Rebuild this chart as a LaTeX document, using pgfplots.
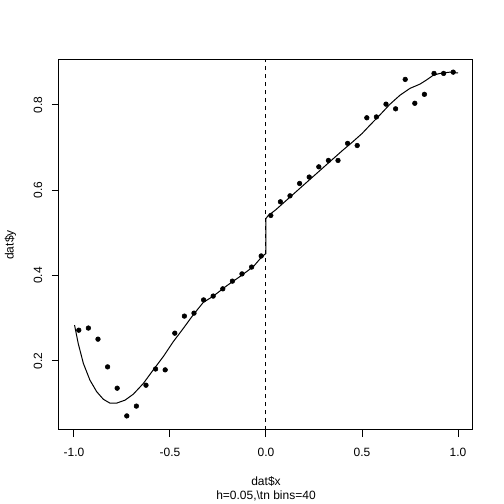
\documentclass[border=0pt]{standalone}
\usepackage{fontspec}
\setmainfont{Liberation Sans}
\usepackage{pgfplots}
\pgfplotsset{compat=1.18}

% binned means (h=0.05, 40 bins)
\pgfplotstableread{
x y
-0.975 0.272
-0.925 0.277
-0.875 0.251
-0.825 0.186
-0.775 0.136
-0.725 0.071
-0.675 0.094
-0.625 0.143
-0.575 0.181
-0.525 0.179
-0.475 0.265
-0.425 0.305
-0.375 0.312
-0.325 0.343
-0.275 0.352
-0.225 0.369
-0.175 0.387
-0.125 0.404
-0.075 0.420
-0.025 0.446
0.025 0.541
0.075 0.573
0.125 0.587
0.175 0.616
0.225 0.631
0.275 0.655
0.325 0.670
0.375 0.670
0.425 0.710
0.475 0.705
0.525 0.770
0.575 0.772
0.625 0.802
0.675 0.791
0.725 0.860
0.775 0.804
0.825 0.825
0.875 0.874
0.925 0.874
0.975 0.877
}\bins

% local fit, left and right of the cutoff
\pgfplotstableread{
x y
-0.997 0.284
-0.978 0.241
-0.951 0.194
-0.917 0.155
-0.882 0.128
-0.847 0.110
-0.813 0.101
-0.778 0.101
-0.734 0.108
-0.691 0.122
-0.639 0.147
-0.587 0.179
-0.535 0.210
-0.483 0.245
-0.431 0.276
-0.379 0.308
-0.327 0.337
-0.274 0.352
-0.205 0.376
-0.135 0.398
-0.066 0.421
-0.022 0.444
0.000 0.452
0.000 0.534
0.010 0.540
0.050 0.554
0.100 0.574
0.150 0.594
0.200 0.614
0.250 0.634
0.300 0.654
0.350 0.674
0.400 0.694
0.450 0.713
0.500 0.733
0.542 0.753
0.594 0.777
0.646 0.802
0.698 0.823
0.750 0.839
0.802 0.849
0.837 0.859
0.872 0.870
0.906 0.874
0.958 0.877
1.000 0.875
}\fit

\begin{document}
\begin{tikzpicture}[x=1pt,y=1pt]
\path[use as bounding box] (0,0) rectangle (378,378);
\begin{axis}[
  name=ax,
  at={(44.25pt,55.5pt)}, anchor=south west,
  scale only axis, width=310.5pt, height=277.5pt,
  xmin=-1.078, xmax=1.078, ymin=0.038, ymax=0.9055,
  axis line style={line width=0.75pt},
  tick style={black, line width=0.75pt},
  tick align=outside, major tick length=5.25pt,
  xtick pos=bottom, ytick pos=left,
  xtick={-1,-0.5,0,0.5,1}, xticklabels={-1.0,-0.5,0.0,0.5,1.0},
  ytick={0.2,0.4,0.6,0.8}, yticklabels={0.2,0.4,0.6,0.8},
  tick label style={font=\fontsize{9}{11}\selectfont},
  x tick label style={anchor=center}, xticklabel shift=11.75pt,
  y tick label style={anchor=center, rotate=90}, yticklabel shift=10.5pt,
]
\addplot[black, line width=0.75pt] table {\fit};
\addplot[only marks, mark=*, mark size=1.75pt, black] table {\bins};
\addplot[black, line width=0.75pt, dash pattern=on 3pt off 3pt] coordinates {(0,0) (0,1)};
\end{axis}
\node[font=\fontsize{9}{11}\selectfont] at ([yshift=-38.8pt]ax.south) {dat\$x};
\node[font=\fontsize{9}{11}\selectfont] at ([yshift=-49.5pt]ax.south) {h=0.05,\textbackslash tn bins=40};
\node[font=\fontsize{9}{11}\selectfont, rotate=90] at ([xshift=-36.4pt]ax.west) {dat\$y};
\end{tikzpicture}
\end{document}
